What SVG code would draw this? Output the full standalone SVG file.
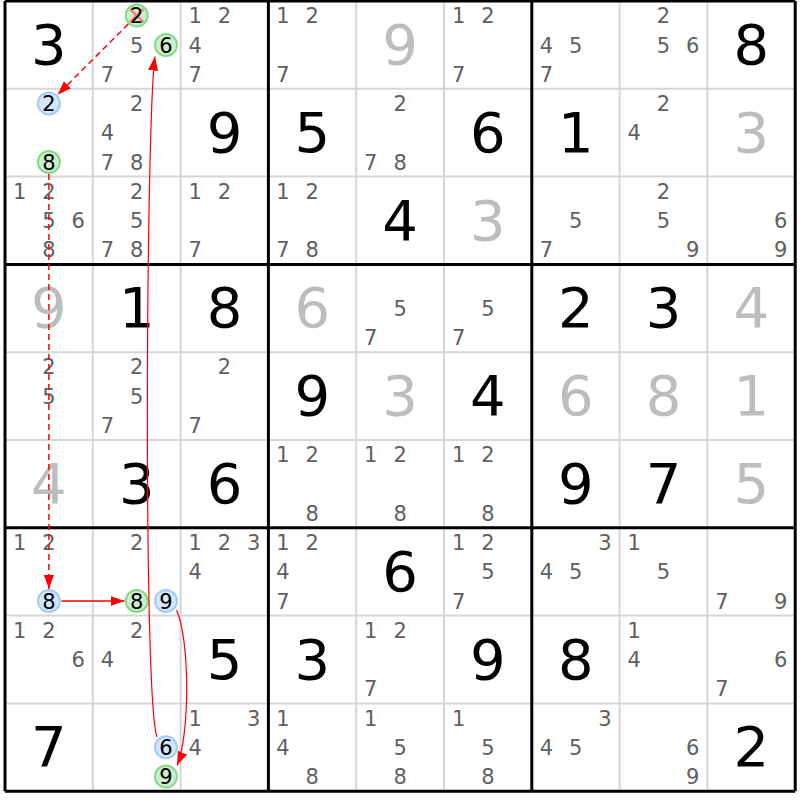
<svg xmlns="http://www.w3.org/2000/svg" width="800" height="800" viewBox="0 0 800 800">
<style>
text{font-family:"DejaVu Sans","Liberation Sans",sans-serif;text-anchor:middle}
.g{font-size:56px;fill:#000}
.s{font-size:56px;fill:#bdbdbd}
.c{font-size:21px;fill:#606060}
.h{font-size:21px;fill:#000}
.thin{stroke:#d6d6d6;stroke-width:2;fill:none}
.thick{stroke:#000;stroke-width:3;fill:none}
.cb{fill:#d2e6fc;stroke:#a2cbf5;stroke-width:2}
.cg{fill:#cdeecd;stroke:#86d986;stroke-width:2}
.x{stroke:#ff6060;stroke-width:2.5;opacity:0.75}
.a{stroke:#ff0000;fill:none;stroke-width:1.5}
.d{stroke-dasharray:6,4}
.cv{stroke:#ff0000;fill:none;stroke-width:1.2}
</style>
<defs>
<marker id="ah" markerUnits="userSpaceOnUse" markerWidth="15" markerHeight="11" refX="14" refY="5" orient="auto">
<path d="M0,0 L14,5 L0,10 z" fill="#ff0000"/>
</marker>
</defs>
<rect x="0" y="0" width="800" height="800" fill="#fff"/>
<g id="grid">
<path class="thin" d="M92.8,1V791.2M180.6,1V791.2M356.2,1V791.2M444,1V791.2M619.6,1V791.2M707.4,1V791.2M5,88.8H795.2M5,176.6H795.2M5,352.2H795.2M5,440H795.2M5,615.6H795.2M5,703.4H795.2"/>
<path class="thick" d="M5,1V791.2M268.4,1V791.2M531.8,1V791.2M795.2,1V791.2M5,1H795.2M5,264.4H795.2M5,527.8H795.2M5,791.2H795.2"/>
</g>
<g id="cells">
<g id="r1c1"><text class="g" x="48.9" y="64">3</text></g>
<g id="r1c2"><circle class="cg" cx="136.7" cy="15.6" r="11"/><path class="x" d="M130,9L143.4,22.2M143.4,9L130,22.2"/><text class="h" x="136.7" y="23.2">2</text><text class="c" x="136.7" y="52.5">5</text><circle class="cg" cx="166" cy="44.9" r="11"/><text class="h" x="166" y="52.5">6</text><text class="c" x="107.4" y="81.8">7</text></g>
<g id="r1c3"><text class="c" x="195.2" y="23.2">1</text><text class="c" x="224.5" y="23.2">2</text><text class="c" x="195.2" y="52.5">4</text><text class="c" x="195.2" y="81.8">7</text></g>
<g id="r1c4"><text class="c" x="283" y="23.2">1</text><text class="c" x="312.3" y="23.2">2</text><text class="c" x="283" y="81.8">7</text></g>
<g id="r1c5"><text class="s" x="400.1" y="64">9</text></g>
<g id="r1c6"><text class="c" x="458.6" y="23.2">1</text><text class="c" x="487.9" y="23.2">2</text><text class="c" x="458.6" y="81.8">7</text></g>
<g id="r1c7"><text class="c" x="546.4" y="52.5">4</text><text class="c" x="575.7" y="52.5">5</text><text class="c" x="546.4" y="81.8">7</text></g>
<g id="r1c8"><text class="c" x="663.5" y="23.2">2</text><text class="c" x="663.5" y="52.5">5</text><text class="c" x="692.8" y="52.5">6</text></g>
<g id="r1c9"><text class="g" x="751.3" y="64">8</text></g>

<g id="r2c1"><circle class="cb" cx="48.9" cy="103.4" r="11"/><text class="h" x="48.9" y="111">2</text><circle class="cg" cx="48.9" cy="162" r="11"/><text class="h" x="48.9" y="169.6">8</text></g>
<g id="r2c2"><text class="c" x="136.7" y="111">2</text><text class="c" x="107.4" y="140.3">4</text><text class="c" x="107.4" y="169.6">7</text><text class="c" x="136.7" y="169.6">8</text></g>
<g id="r2c3"><text class="g" x="224.5" y="151.8">9</text></g>
<g id="r2c4"><text class="g" x="312.3" y="151.8">5</text></g>
<g id="r2c5"><text class="c" x="400.1" y="111">2</text><text class="c" x="370.8" y="169.6">7</text><text class="c" x="400.1" y="169.6">8</text></g>
<g id="r2c6"><text class="g" x="487.9" y="151.8">6</text></g>
<g id="r2c7"><text class="g" x="575.7" y="151.8">1</text></g>
<g id="r2c8"><text class="c" x="663.5" y="111">2</text><text class="c" x="634.2" y="140.3">4</text></g>
<g id="r2c9"><text class="s" x="751.3" y="151.8">3</text></g>

<g id="r3c1"><text class="c" x="19.6" y="198.8">1</text><text class="c" x="48.9" y="198.8">2</text><text class="c" x="48.9" y="228.1">5</text><text class="c" x="78.2" y="228.1">6</text><text class="c" x="48.9" y="257.4">8</text></g>
<g id="r3c2"><text class="c" x="136.7" y="198.8">2</text><text class="c" x="136.7" y="228.1">5</text><text class="c" x="107.4" y="257.4">7</text><text class="c" x="136.7" y="257.4">8</text></g>
<g id="r3c3"><text class="c" x="195.2" y="198.8">1</text><text class="c" x="224.5" y="198.8">2</text><text class="c" x="195.2" y="257.4">7</text></g>
<g id="r3c4"><text class="c" x="283" y="198.8">1</text><text class="c" x="312.3" y="198.8">2</text><text class="c" x="283" y="257.4">7</text><text class="c" x="312.3" y="257.4">8</text></g>
<g id="r3c5"><text class="g" x="400.1" y="239.6">4</text></g>
<g id="r3c6"><text class="s" x="487.9" y="239.6">3</text></g>
<g id="r3c7"><text class="c" x="575.7" y="228.1">5</text><text class="c" x="546.4" y="257.4">7</text></g>
<g id="r3c8"><text class="c" x="663.5" y="198.8">2</text><text class="c" x="663.5" y="228.1">5</text><text class="c" x="692.8" y="257.4">9</text></g>
<g id="r3c9"><text class="c" x="780.6" y="228.1">6</text><text class="c" x="780.6" y="257.4">9</text></g>

<g id="r4c1"><text class="s" x="48.9" y="327.4">9</text></g>
<g id="r4c2"><text class="g" x="136.7" y="327.4">1</text></g>
<g id="r4c3"><text class="g" x="224.5" y="327.4">8</text></g>
<g id="r4c4"><text class="s" x="312.3" y="327.4">6</text></g>
<g id="r4c5"><text class="c" x="400.1" y="315.9">5</text><text class="c" x="370.8" y="345.2">7</text></g>
<g id="r4c6"><text class="c" x="487.9" y="315.9">5</text><text class="c" x="458.6" y="345.2">7</text></g>
<g id="r4c7"><text class="g" x="575.7" y="327.4">2</text></g>
<g id="r4c8"><text class="g" x="663.5" y="327.4">3</text></g>
<g id="r4c9"><text class="s" x="751.3" y="327.4">4</text></g>

<g id="r5c1"><text class="c" x="48.9" y="374.4">2</text><text class="c" x="48.9" y="403.7">5</text></g>
<g id="r5c2"><text class="c" x="136.7" y="374.4">2</text><text class="c" x="136.7" y="403.7">5</text><text class="c" x="107.4" y="433">7</text></g>
<g id="r5c3"><text class="c" x="224.5" y="374.4">2</text><text class="c" x="195.2" y="433">7</text></g>
<g id="r5c4"><text class="g" x="312.3" y="415.2">9</text></g>
<g id="r5c5"><text class="s" x="400.1" y="415.2">3</text></g>
<g id="r5c6"><text class="g" x="487.9" y="415.2">4</text></g>
<g id="r5c7"><text class="s" x="575.7" y="415.2">6</text></g>
<g id="r5c8"><text class="s" x="663.5" y="415.2">8</text></g>
<g id="r5c9"><text class="s" x="751.3" y="415.2">1</text></g>

<g id="r6c1"><text class="s" x="48.9" y="503">4</text></g>
<g id="r6c2"><text class="g" x="136.7" y="503">3</text></g>
<g id="r6c3"><text class="g" x="224.5" y="503">6</text></g>
<g id="r6c4"><text class="c" x="283" y="462.2">1</text><text class="c" x="312.3" y="462.2">2</text><text class="c" x="312.3" y="520.8">8</text></g>
<g id="r6c5"><text class="c" x="370.8" y="462.2">1</text><text class="c" x="400.1" y="462.2">2</text><text class="c" x="400.1" y="520.8">8</text></g>
<g id="r6c6"><text class="c" x="458.6" y="462.2">1</text><text class="c" x="487.9" y="462.2">2</text><text class="c" x="487.9" y="520.8">8</text></g>
<g id="r6c7"><text class="g" x="575.7" y="503">9</text></g>
<g id="r6c8"><text class="g" x="663.5" y="503">7</text></g>
<g id="r6c9"><text class="s" x="751.3" y="503">5</text></g>

<g id="r7c1"><text class="c" x="19.6" y="550">1</text><text class="c" x="48.9" y="550">2</text><circle class="cb" cx="48.9" cy="601" r="11"/><text class="h" x="48.9" y="608.6">8</text></g>
<g id="r7c2"><text class="c" x="136.7" y="550">2</text><circle class="cg" cx="136.7" cy="601" r="11"/><text class="h" x="136.7" y="608.6">8</text><circle class="cb" cx="166" cy="601" r="11"/><text class="h" x="166" y="608.6">9</text></g>
<g id="r7c3"><text class="c" x="195.2" y="550">1</text><text class="c" x="224.5" y="550">2</text><text class="c" x="253.8" y="550">3</text><text class="c" x="195.2" y="579.3">4</text></g>
<g id="r7c4"><text class="c" x="283" y="550">1</text><text class="c" x="312.3" y="550">2</text><text class="c" x="283" y="579.3">4</text><text class="c" x="283" y="608.6">7</text></g>
<g id="r7c5"><text class="g" x="400.1" y="590.8">6</text></g>
<g id="r7c6"><text class="c" x="458.6" y="550">1</text><text class="c" x="487.9" y="550">2</text><text class="c" x="487.9" y="579.3">5</text><text class="c" x="458.6" y="608.6">7</text></g>
<g id="r7c7"><text class="c" x="605" y="550">3</text><text class="c" x="546.4" y="579.3">4</text><text class="c" x="575.7" y="579.3">5</text></g>
<g id="r7c8"><text class="c" x="634.2" y="550">1</text><text class="c" x="663.5" y="579.3">5</text></g>
<g id="r7c9"><text class="c" x="722" y="608.6">7</text><text class="c" x="780.6" y="608.6">9</text></g>

<g id="r8c1"><text class="c" x="19.6" y="637.8">1</text><text class="c" x="48.9" y="637.8">2</text><text class="c" x="78.2" y="667.1">6</text></g>
<g id="r8c2"><text class="c" x="136.7" y="637.8">2</text><text class="c" x="107.4" y="667.1">4</text></g>
<g id="r8c3"><text class="g" x="224.5" y="678.6">5</text></g>
<g id="r8c4"><text class="g" x="312.3" y="678.6">3</text></g>
<g id="r8c5"><text class="c" x="370.8" y="637.8">1</text><text class="c" x="400.1" y="637.8">2</text><text class="c" x="370.8" y="696.4">7</text></g>
<g id="r8c6"><text class="g" x="487.9" y="678.6">9</text></g>
<g id="r8c7"><text class="g" x="575.7" y="678.6">8</text></g>
<g id="r8c8"><text class="c" x="634.2" y="637.8">1</text><text class="c" x="634.2" y="667.1">4</text></g>
<g id="r8c9"><text class="c" x="780.6" y="667.1">6</text><text class="c" x="722" y="696.4">7</text></g>

<g id="r9c1"><text class="g" x="48.9" y="766.4">7</text></g>
<g id="r9c2"><circle class="cb" cx="166" cy="747.3" r="11"/><text class="h" x="166" y="754.9">6</text><circle class="cg" cx="166" cy="776.6" r="11"/><text class="h" x="166" y="784.2">9</text></g>
<g id="r9c3"><text class="c" x="195.2" y="725.6">1</text><text class="c" x="253.8" y="725.6">3</text><text class="c" x="195.2" y="754.9">4</text></g>
<g id="r9c4"><text class="c" x="283" y="725.6">1</text><text class="c" x="283" y="754.9">4</text><text class="c" x="312.3" y="784.2">8</text></g>
<g id="r9c5"><text class="c" x="370.8" y="725.6">1</text><text class="c" x="400.1" y="754.9">5</text><text class="c" x="400.1" y="784.2">8</text></g>
<g id="r9c6"><text class="c" x="458.6" y="725.6">1</text><text class="c" x="487.9" y="754.9">5</text><text class="c" x="487.9" y="784.2">8</text></g>
<g id="r9c7"><text class="c" x="605" y="725.6">3</text><text class="c" x="546.4" y="754.9">4</text><text class="c" x="575.7" y="754.9">5</text></g>
<g id="r9c8"><text class="c" x="692.8" y="754.9">6</text><text class="c" x="692.8" y="784.2">9</text></g>
<g id="r9c9"><text class="g" x="751.3" y="766.4">2</text></g>
</g>
<g id="connectors">
<path class="a d" d="M128.2,24.1L57.6,94.7" marker-end="url(#ah)"/>
<path class="a d" d="M48.9,174V589" marker-end="url(#ah)"/>
<path class="a" d="M61.4,601H124.5" marker-end="url(#ah)"/>
<path class="cv" d="M176.5,610C190,640 190,735 177,765.5" marker-end="url(#ah)"/>
<path class="cv" d="M157,737C143,700 146,120 155,56.5" marker-end="url(#ah)"/>
</g>
</svg>
